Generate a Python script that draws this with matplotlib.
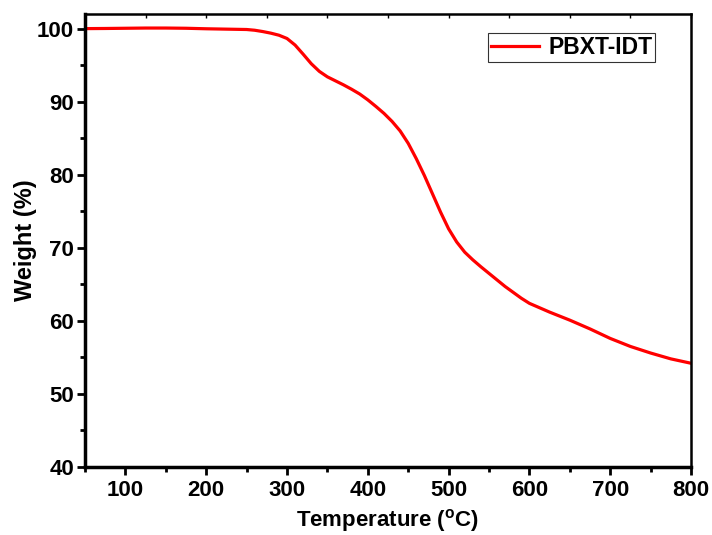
import numpy as np
import matplotlib
matplotlib.use('Agg')
import matplotlib.pyplot as plt

plt.rcParams['font.family'] = ['Liberation Sans', 'DejaVu Sans']
plt.rcParams['font.weight'] = 'bold'
plt.rcParams['mathtext.fontset'] = 'custom'
plt.rcParams['mathtext.rm'] = 'Liberation Sans:bold'
plt.rcParams['mathtext.default'] = 'rm'

# TGA curve
temp = [50, 75, 100, 125, 150, 175, 200, 225, 250, 260, 270, 280, 290, 300,
        310, 320, 330, 340, 350, 360, 370, 380, 390, 400, 410, 420, 430, 440,
        450, 460, 470, 480, 490, 500, 510, 520, 530, 540, 550, 560, 570, 580,
        590, 600, 625, 650, 675, 700, 725, 750, 775, 800]
weight = [100.0, 100.02, 100.05, 100.08, 100.08, 100.05, 99.98, 99.93, 99.88,
          99.78, 99.6, 99.38, 99.1, 98.65, 97.75, 96.5, 95.2, 94.15, 93.4,
          92.85, 92.3, 91.7, 91.05, 90.25, 89.35, 88.4, 87.3, 86.0, 84.3, 82.2,
          79.9, 77.4, 74.9, 72.6, 70.8, 69.4, 68.35, 67.4, 66.5, 65.6, 64.7,
          63.9, 63.1, 62.4, 61.2, 60.1, 58.9, 57.6, 56.5, 55.6, 54.8, 54.2]
label = 'PBXT-IDT'

fig = plt.figure(figsize=(7.12, 5.35), dpi=100)
ax = fig.add_axes([0.1194, 0.1271, 0.8511, 0.8467])

ax.plot(temp, weight, color='#ff0000', lw=2.3, label=label)

ax.set_xlim(50, 800)
ax.set_ylim(40, 102)
ax.set_xticks(np.arange(100, 801, 100))
ax.set_xticks(np.arange(50, 801, 50), minor=True)
ax.set_yticks(np.arange(40, 101, 10))
ax.set_yticks(np.arange(45, 101, 10), minor=True)

ax.tick_params(which='major', direction='out', length=6, width=2,
               labelsize=16, top=False, right=False)
ax.tick_params(which='minor', direction='out', length=3.5, width=2,
               top=False, right=False)
ax.tick_params(axis='y', which='major', pad=2)
for lab in ax.get_xticklabels() + ax.get_yticklabels():
    lab.set_fontweight('bold')

ax.spines['left'].set_linewidth(2.5)
ax.spines['bottom'].set_linewidth(2.5)
ax.spines['top'].set_linewidth(1.8)
ax.spines['right'].set_linewidth(1.8)

top = ax.secondary_xaxis('top')
top.set_xticks(np.arange(50, 801, 75))
top.tick_params(direction='in', length=3, width=1, labeltop=False)
top.spines['top'].set_visible(False)

ax.set_xlabel(r'Temperature ($^{o}$C)', fontsize=16, fontweight='bold', labelpad=4)
ax.set_ylabel('Weight (%)', fontsize=17, fontweight='bold', labelpad=0)

leg = ax.legend(loc='upper right', bbox_to_anchor=(0.941, 0.958),
                fontsize=16.5, frameon=True, fancybox=False, handlelength=2.1,
                borderpad=0.12, handletextpad=0.4, borderaxespad=0)
leg.get_frame().set_edgecolor('black')
leg.get_frame().set_linewidth(0.8)
for t in leg.get_texts():
    t.set_fontweight('bold')

fig.savefig('out.png', dpi=100)
